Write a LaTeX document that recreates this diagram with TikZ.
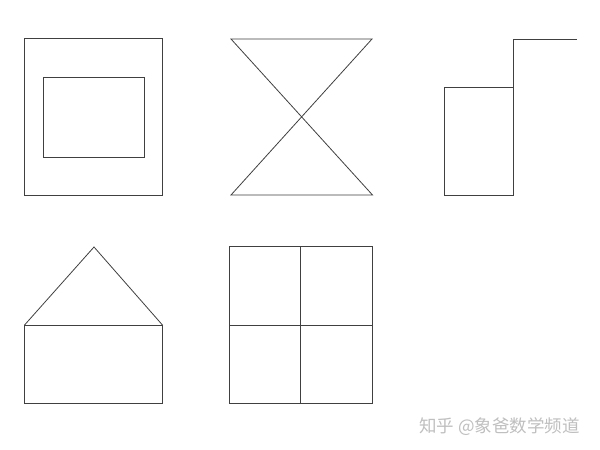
\documentclass[tikz,border=0pt]{standalone}
\usepackage{fontspec}
\newfontfamily\cjk{Noto Sans CJK SC}
\begin{document}
\begin{tikzpicture}[x=1pt,y=-1pt,
  shape line/.style={draw=black!75,line width=0.8pt,line join=miter}]
\useasboundingbox[fill=white] (0,0) rectangle (600,450);
% framed square
\draw[shape line] (24,38.5) rectangle (162.5,195.5);
\draw[shape line] (43.7,77) rectangle (144,157.3);
% hourglass
\draw[shape line] (231,39) -- (372,39) -- (231,195) -- (372.5,195) -- cycle;
% rectangle with step
\draw[shape line] (444.3,87) rectangle (513.7,195.3);
\draw[shape line] (513.7,87) -- (513.7,39) -- (577,39);
% house
\draw[shape line] (24.3,325.3) rectangle (162.7,403.7);
\draw[shape line] (24.3,325.3) -- (94,247) -- (162.7,325.3);
% grid
\draw[shape line] (229.3,246.7) rectangle (372.7,403.7);
\draw[shape line] (300.7,246.7) -- (300.7,403.7);
\draw[shape line] (229.3,325.3) -- (372.7,325.3);
% watermark
\node[anchor=west,inner sep=0pt,text=black!25,font=\cjk\fontsize{17.5}{20}\selectfont] (wm) at (419,427) {知乎 @象爸数学频道};
\end{tikzpicture}
\end{document}
